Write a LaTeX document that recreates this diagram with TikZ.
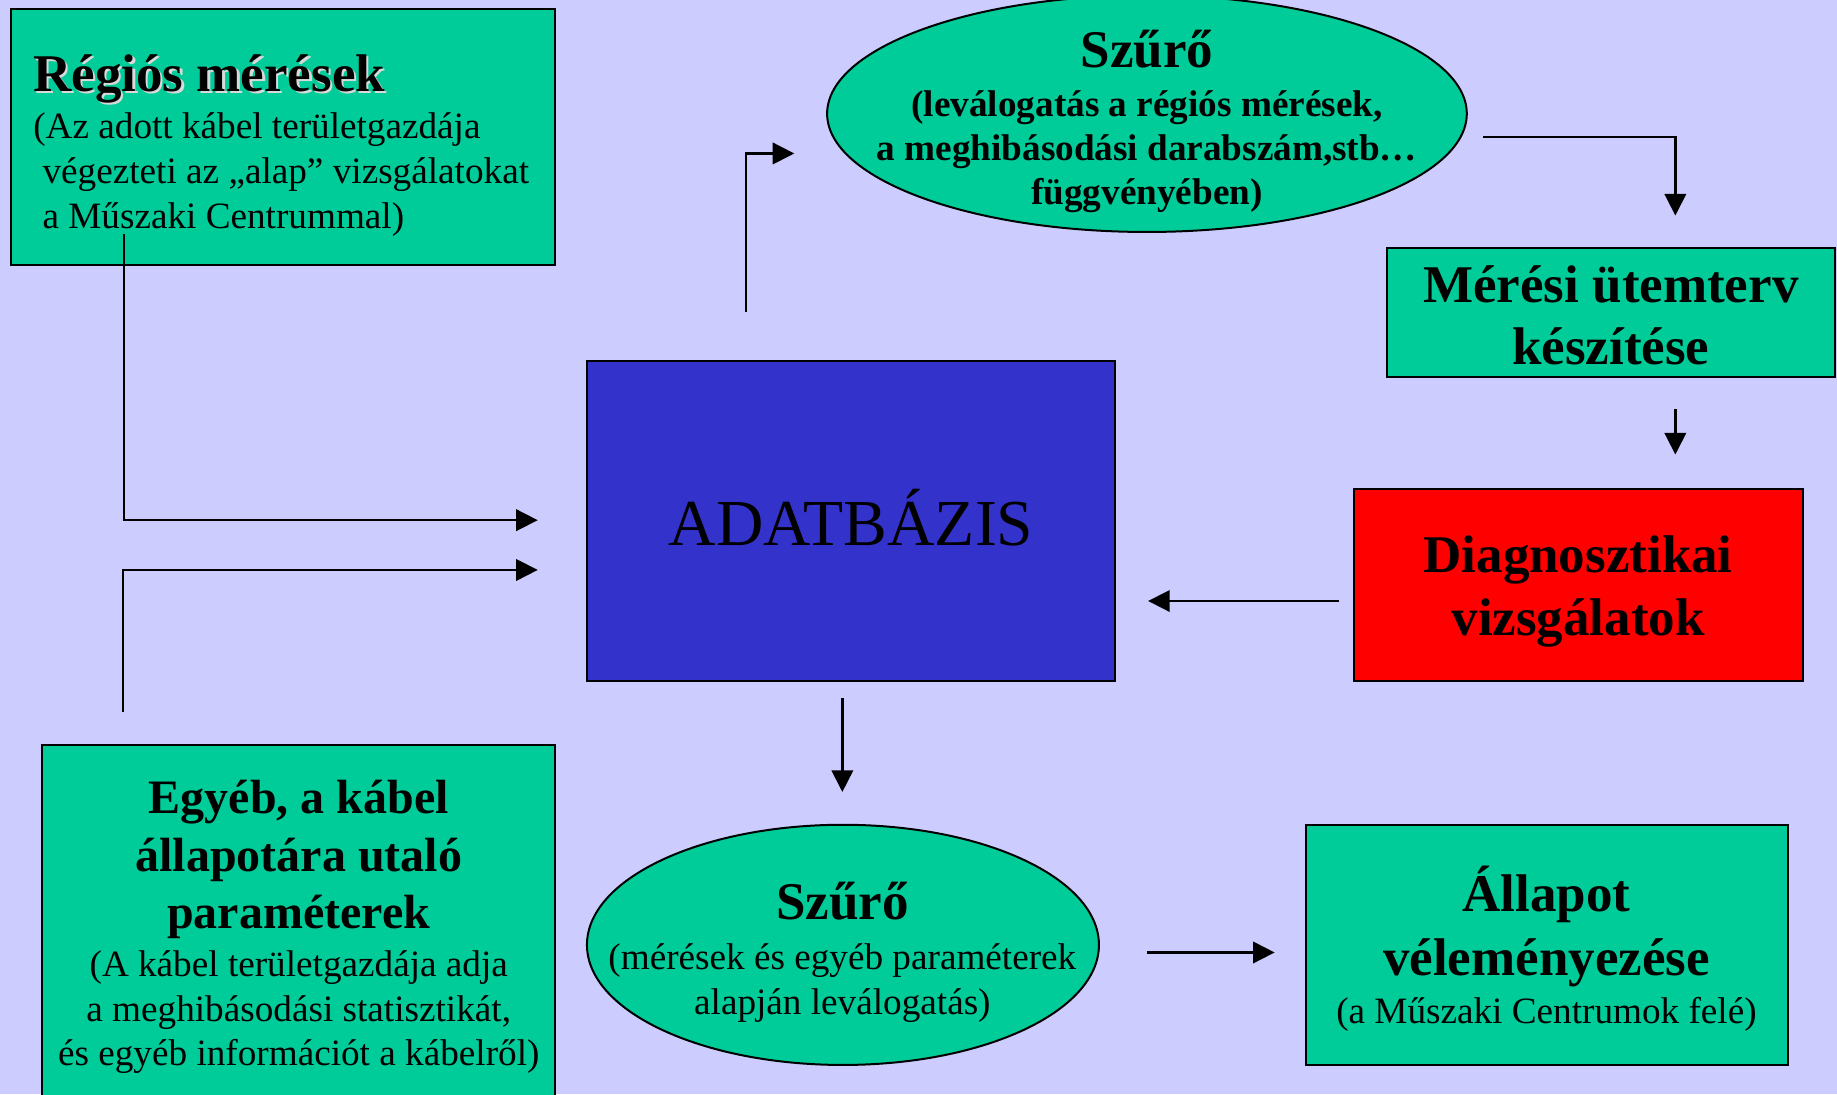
\documentclass[tikz,border=0pt]{standalone}
\usepackage{fontspec}
\setmainfont{Liberation Serif}
\usetikzlibrary{shapes.geometric,arrows.meta,fit}
\definecolor{bgc}{HTML}{CCCCFF}
\definecolor{boxgreen}{HTML}{00CC99}
\definecolor{dbblue}{HTML}{3333CC}
\definecolor{diagred}{HTML}{FF0000}
\newcommand\bigb[1]{{\bfseries\fontsize{26.5}{0}\selectfont #1}}
\newcommand\bigc[1]{{\bfseries\fontsize{24}{0}\selectfont #1}}
\newcommand\shtext[1]{\makebox[0pt][l]{\hspace{1.2pt}\raisebox{-1.2pt}{\color{white!85!black}#1}}#1}
\newcommand\tightlines{\lineskiplimit=-\maxdimen\relax}
\newcommand\txtfont{\fontsize{18.6}{0}\selectfont\tightlines}
\tikzset{
  box/.style={draw=black, line width=1pt, fill=boxgreen, inner sep=0pt},
  oval/.style={ellipse, draw=black, line width=1pt, fill=boxgreen, inner sep=0pt},
  txt/.style={align=center, inner sep=0pt, font=\txtfont},
  conn/.style={line width=1.2pt, -{Triangle[length=10.8pt,width=10.7pt]}},
}
\begin{document}
\begin{tikzpicture}[x=0.5858pt,y=-0.5858pt]
\useasboundingbox (0,0) rectangle (1568,934);
\fill[bgc] (0,0) rectangle (1568,934);
% boxes
\node[box, fit={(9,8)(474,226)}] (reg) {};
\node[oval, minimum width=546*0.5858pt, minimum height=202*0.5858pt] (f1) at (979,97) {};
\node[box, fit={(1184,212)(1566,322)}] (mer) {};
\node[box, fill=dbblue, fit={(501,308)(952,581)}] (db) {};
\node[box, fill=diagred, fit={(1156,417)(1539,581)}] (diag) {};
\node[box, fit={(36,636)(474,950)}] (egy) {};
\node[oval, minimum width=437*0.5858pt, minimum height=205*0.5858pt] (f2) at (719.5,806.5) {};
\node[box, fit={(1115,704)(1526,909)}] (all) {};
% texts
\node[inner sep=0pt, font=\fontsize{32.8}{38}\selectfont] (dbT) at (726.5,442) {ADATBÁZIS};
\node[txt, align=left] (regT) at (240,124) {\bigb{\shtext{Régiós mérések}}\\[23.8pt]
 (Az adott kábel területgazdája\\[22.5pt]
 \ végezteti az „alap” vizsgálatokat\\[22.3pt]
 \ a Műszaki Centrummal)};
\node[txt] (f1T) at (979,103.5) {\bigb{Szűrő}\\[24.3pt]
 \textbf{(leválogatás a régiós mérések,}\\[22.3pt]
 \textbf{a meghibásodási darabszám,stb…}\\[21.7pt]
 \textbf{függvényében)}};
\node[txt] (merT) at (1375,269) {\bigb{Mérési ütemterv}\\[31pt]\bigb{készítése}};
\node[txt] (diagT) at (1347,505) {\bigb{Diagnosztikai}\\[31.6pt]\bigb{vizsgálatok}};
\node[txt] (egyT) at (255,791.5) {\bigc{Egyéb, a kábel}\\[28.7pt]
 \bigc{állapotára utaló}\\[28.7pt]
 \bigc{paraméterek}\\[24pt]
 (A kábel területgazdája adja\\[22.3pt]
 a meghibásodási statisztikát,\\[22.3pt]
 és egyéb információt a kábelről)};
\node[txt] (f2T) at (719,813) {\bigb{Szűrő}\\[24.9pt]
 (mérések és egyéb paraméterek\\[22.3pt]
 alapján leválogatás)};
\node[txt] (allT) at (1320,809.5) {\bigb{Állapot}\\[32.2pt]
 \bigb{véleményezése}\\[23.7pt]
 (a Műszaki Centrumok felé)};
% connector ends
\coordinate (a0) at (106,200); \coordinate (a1) at (459,444);
\coordinate (b0) at (105,608); \coordinate (b1) at (459,486.5);
\coordinate (c0) at (637,266); \coordinate (c1) at (678,131);
\coordinate (d0) at (1266,117); \coordinate (d1) at (1430,184);
\coordinate (e0) at (1430,349); \coordinate (e1) at (1430,388);
\coordinate (f0) at (1143,513); \coordinate (f1e) at (980,513);
\coordinate (g0) at (719,596); \coordinate (g1) at (719,676);
\coordinate (h0) at (979,813); \coordinate (h1) at (1088,813);
\draw[conn] (a0) |- (a1);
\draw[conn] (b0) |- (b1);
\draw[conn] (c0) |- (c1);
\draw[conn] (d0) -| (d1);
\draw[conn] (e0) -- (e1);
\draw[conn] (f0) -- (f1e);
\draw[conn] (g0) -- (g1);
\draw[conn] (h0) -- (h1);
\end{tikzpicture}
\end{document}
